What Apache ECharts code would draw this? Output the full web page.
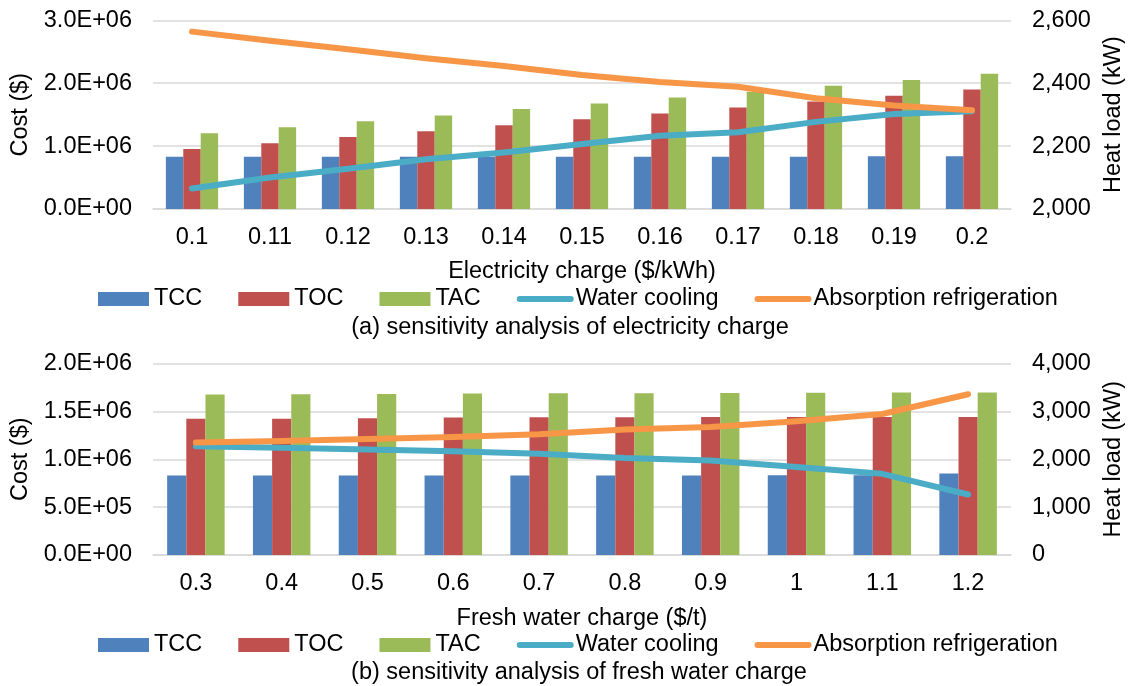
<!DOCTYPE html>
<html>
<head>
<meta charset="utf-8">
<script src="https://cdn.jsdelivr.net/npm/echarts@6/dist/echarts.min.js"></script>
<style>
html,body{margin:0;padding:0;background:#fff;}
#chart{width:1134px;height:686px;}
</style>
</head>
<body>
<div id="chart"></div>
<script>
// ---- data: (a) electricity charge ----
var catsA = ['0.1','0.11','0.12','0.13','0.14','0.15','0.16','0.17','0.18','0.19','0.2'];
var tccA = [830000,830000,830000,830000,830000,830000,830000,830000,830000,838000,838000];
var tocA = [955000,1046000,1146000,1237000,1333000,1428000,1519000,1615000,1710000,1800000,1901000];
var tacA = [1205000,1300000,1397000,1487000,1588000,1678000,1774000,1863000,1959000,2049000,2150000];
var waterA = [2065,2100,2128,2158,2180,2207,2233,2244,2277,2302,2311];
var absorbA = [2564,2535,2508,2479,2455,2426,2404,2389,2352,2329,2314];

// ---- data: (b) fresh water charge ----
var catsB = ['0.3','0.4','0.5','0.6','0.7','0.8','0.9','1','1.1','1.2'];
var tccB = [831000,831000,831000,831000,831000,831000,831000,834000,834000,852000];
var tocB = [1424000,1424000,1428000,1435000,1438000,1438000,1441000,1442000,1442000,1442000];
var tacB = [1675000,1679000,1682000,1686000,1689000,1689000,1693000,1694000,1696000,1696000];
var waterB = [2270,2240,2205,2165,2115,2024,1976,1836,1696,1264];
var absorbB = [2352,2380,2422,2464,2520,2620,2674,2792,2946,3358];

var seriesNames = ['TCC','TOC','TAC','Water cooling','Absorption refrigeration'];
var xNameA = 'Electricity charge ($/kWh)';
var xNameB = 'Fresh water charge ($/t)';
var captionA = '(a) sensitivity analysis of electricity charge';
var captionB = '(b) sensitivity analysis of fresh water charge';

var C_TCC = '#4F81BD', C_TOC = '#C0504D', C_TAC = '#9BBB59', C_WAT = '#4BACC6', C_ABS = '#F79646';
var FS = 23.5;
var FONT = "'Liberation Sans', Arial, sans-serif";
var GRID_C = '#D9D9D9';

function sci(v){
  if (v === 0) return '0.0E+00';
  var e = Math.floor(Math.log10(v) + 1e-9);
  var m = v / Math.pow(10, e);
  return m.toFixed(1) + 'E+' + (e < 10 ? '0' : '') + e;
}
function thou(v){ return Number(v).toLocaleString('en-US'); }

function xAxisCfg(idx, cats, name, gap, margin){
  return {
    type:'category', gridIndex: idx, data: cats,
    name: name, nameLocation:'middle', nameGap: gap,
    nameTextStyle:{fontSize:FS, color:'#000', fontFamily:FONT},
    axisLine:{show:true, lineStyle:{color:GRID_C, width:1.5}},
    axisTick:{show:false},
    axisLabel:{interval:0, fontSize:FS, color:'#000', margin:margin, fontFamily:FONT}
  };
}
function yLeft(idx, max, interval){
  return {
    type:'value', gridIndex: idx, min:0, max:max, interval:interval, position:'left',
    name:'Cost ($)', nameLocation:'middle', nameGap:119,
    nameTextStyle:{fontSize:FS, color:'#000', fontFamily:FONT},
    axisLine:{show:false}, axisTick:{show:false},
    axisLabel:{formatter:sci, fontSize:FS, color:'#000', margin:21, fontFamily:FONT},
    splitLine:{show:true, lineStyle:{color:GRID_C, width:1.5}}
  };
}
function yRight(idx, min, max, interval){
  return {
    type:'value', gridIndex: idx, min:min, max:max, interval:interval, position:'right',
    name:'Heat load (kW)', nameLocation:'middle', nameGap:91,
    nameTextStyle:{fontSize:FS, color:'#000', fontFamily:FONT},
    axisLine:{show:false}, axisTick:{show:false},
    axisLabel:{formatter:thou, fontSize:FS, color:'#000', margin:21, fontFamily:FONT},
    splitLine:{show:false}
  };
}
function bar(name, data, color, xi, yi){
  return {name:name, type:'bar', xAxisIndex:xi, yAxisIndex:yi, data:data,
    barGap:'0%', barCategoryGap:'33%', itemStyle:{color:color}, z:2};
}
function line(name, data, color, xi, yi){
  return {name:name, type:'line', xAxisIndex:xi, yAxisIndex:yi, data:data,
    symbol:'none', showSymbol:false, smooth:false,
    lineStyle:{color:color, width:6, cap:'round', join:'round'},
    itemStyle:{color:color}, z:5};
}
function legendCfg(top){
  return {
    top: top, left: 98, padding: 0, itemGap: 36, itemWidth: 51, itemHeight: 14,
    textStyle:{fontSize:FS, color:'#000', fontFamily:FONT},
    selectedMode:false,
    lineStyle:{width:6, cap:'round'},
    data:[{name:'TCC', icon:'rect'},{name:'TOC', icon:'rect'},{name:'TAC', icon:'rect'},
          {name:'Water cooling', itemStyle:{opacity:0, borderWidth:0}, lineStyle:{width:6, cap:'round', opacity:1}},
          {name:'Absorption refrigeration', itemStyle:{opacity:0, borderWidth:0}, lineStyle:{width:6, cap:'round', opacity:1}}]
  };
}

var chart = echarts.init(document.getElementById('chart'), null, {renderer:'canvas'});
chart.setOption({
  animation:false,
  backgroundColor:'#fff',
  textStyle:{fontFamily:FONT},
  grid:[
    {left:153, right:119, top:20.3, height:188.7},
    {left:153, right:119, top:363.5, height:191.5}
  ],
  xAxis:[ xAxisCfg(0, catsA, xNameA, 51, 17), xAxisCfg(1, catsB, xNameB, 52, 16.5) ],
  yAxis:[ yLeft(0, 3000000, 1000000), yRight(0, 2000, 2600, 200),
          yLeft(1, 2000000, 500000), yRight(1, 0, 4000, 1000) ],
  legend:[ legendCfg(287), legendCfg(633) ],
  graphic:[
    {type:'text', x:570, y:328, style:{text:captionA, align:'center', verticalAlign:'middle', font: FS + 'px ' + FONT, fill:'#000'}},
    {type:'text', x:579, y:673, style:{text:captionB, align:'center', verticalAlign:'middle', font: FS + 'px ' + FONT, fill:'#000'}}
  ],
  series:[
    bar(seriesNames[0], tccA, C_TCC, 0, 0),
    bar(seriesNames[1], tocA, C_TOC, 0, 0),
    bar(seriesNames[2], tacA, C_TAC, 0, 0),
    line(seriesNames[3], waterA, C_WAT, 0, 1),
    line(seriesNames[4], absorbA, C_ABS, 0, 1),
    bar(seriesNames[0], tccB, C_TCC, 1, 2),
    bar(seriesNames[1], tocB, C_TOC, 1, 2),
    bar(seriesNames[2], tacB, C_TAC, 1, 2),
    line(seriesNames[3], waterB, C_WAT, 1, 3),
    line(seriesNames[4], absorbB, C_ABS, 1, 3)
  ]
});
</script>
</body>
</html>
